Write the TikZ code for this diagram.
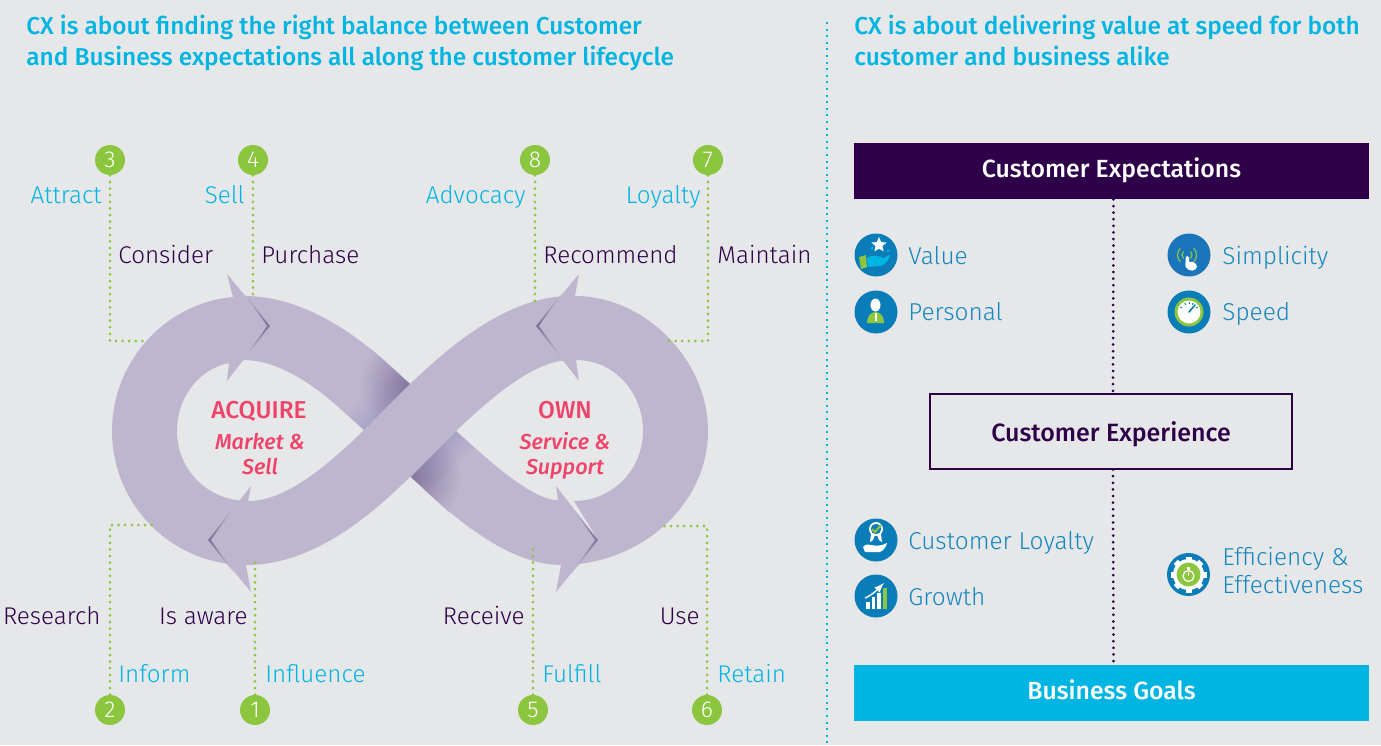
\documentclass[tikz,border=0pt]{standalone}
\usepackage{fontspec}
\setmainfont{Fira Sans Light}[BoldFont=Fira Sans Medium,ItalicFont=Fira Sans Light Italic,BoldItalicFont=Fira Sans Medium Italic]
\usepackage{tikz}
\usetikzlibrary{shapes.geometric,fadings}
\definecolor{bgc}{HTML}{E6E7E9}
\definecolor{bandc}{HTML}{BEB6CF}
\definecolor{darkc}{HTML}{7F7099}
\definecolor{crossc}{HTML}{9C97C0}
\definecolor{purplec}{HTML}{2E0049}
\definecolor{cyanc}{HTML}{00B5E2}
\definecolor{greenc}{HTML}{8CC63F}
\definecolor{pinkc}{HTML}{F0436A}
\definecolor{iconc}{HTML}{0A7DB8}
\definecolor{simplec}{HTML}{1B75BB}
\definecolor{textc}{HTML}{1487BF}
\tikzfading[name=cornerfade,inner color=transparent!15,outer color=transparent!100]
\tikzset{
  badge/.style={circle,fill=greenc,text=white,minimum size=15pt,inner sep=0pt,font=\fontsize{11.5}{12}\selectfont},
  guide/.style={greenc,line width=1.5pt,line cap=round,dash pattern=on 0pt off 3.3pt},
  middots/.style={purplec,line width=1.5pt,line cap=round,dash pattern=on 0pt off 3.3pt},
  stagelabel/.style={text=purplec,inner sep=0pt,text height=10pt,text depth=2pt,font=\fontsize{12.1}{14}\selectfont},
  touchlabel/.style={text=cyanc,inner sep=0pt,text height=10pt,text depth=2pt,font=\fontsize{12.1}{14}\selectfont},
  heading/.style={text=cyanc,inner sep=0pt,anchor=west,text height=10pt,text depth=2pt,font=\fontsize{12.2}{14}\selectfont\bfseries},
  midlabel/.style={text=pinkc,inner sep=0pt,text height=9pt,text depth=2pt,font=\fontsize{10.8}{13}\selectfont\bfseries},
  midtitle/.style={midlabel,font=\fontsize{12.2}{13}\selectfont\bfseries},
  iconlabel/.style={text=textc,inner sep=0pt,anchor=west,text height=10pt,text depth=2pt,font=\fontsize{12.2}{14}\selectfont},
  icondisc/.style={circle,fill=iconc,minimum size=21.5pt,inner sep=0pt},
  banner/.style={minimum width=257.5pt,minimum height=28pt,inner sep=0pt,text=white,text height=9pt,text depth=2.5pt,font=\fontsize{12.4}{14}\selectfont\bfseries}
}
\begin{document}
\begin{tikzpicture}[x=0.5pt,y=-0.5pt]
  \fill[bgc] (0,0) rectangle (1381,745);
  \useasboundingbox (0,0) rectangle (1381,745);

  % Headings
  \node[heading] (headleft) at (26,26) {CX is about finding the right balance between Customer};
  \node[heading] (headleftb) at (26,57) {and Business expectations all along the customer lifecycle};
  \node[heading] (headright) at (854,26) {CX is about delivering value at speed for both};
  \node[heading] (headrightb) at (854,57) {customer and business alike};

  % Divider
  \coordinate (divtop) at (827,22);
  \coordinate (divbot) at (827,745);
  \draw[cyanc,line width=1pt,dash pattern=on 1pt off 2.3pt] (divtop) -- (divbot);

  % Left loop
  \fill[bandc] (233,297) -- (227,274) -- (270,326) -- (227,381) -- (229,363)
    .. controls (199,369) and (177,397) .. (177,431)
    .. controls (177,470) and (208,501) .. (248,501) -- (208,540) -- (246,565)
    .. controls (172,565) and (112,505) .. (112,431)
    .. controls (112,362) and (165,303) .. (233,297) -- cycle;

  % Right loop
  \fill[bandc] (575,296) -- (579,274) -- (536,326) -- (579,381) -- (576,360)
    .. controls (614,360) and (643,392) .. (643,431)
    .. controls (643,470) and (612,501) .. (574,501) -- (598,540) -- (561,565)
    .. controls (640,565) and (708,505) .. (708,431)
    .. controls (708,360) and (645,296) .. (575,296) -- cycle;

  % Band that runs under
  \fill[bandc] (244,296) .. controls (308,296) and (365,340) .. (410,384) -- (456,431)
    .. controls (496,468) and (536,501) .. (558,500) -- (556,486) -- (598,540) -- (556,592) -- (561,565)
    .. controls (511,565) and (456,521) .. (411,477) -- (364,430)
    .. controls (325,393) and (285,360) .. (243,360) -- (270,326) -- cycle;

  % Shading where it passes under
  \shade[top color=bandc,bottom color=crossc,middle color=bandc,shading angle=45] (410,384) -- (364,430) -- (326,396) -- (372,350) -- cycle;
  \begin{scope}
    \clip (410,384) -- (364,430) -- (326,396) -- (372,350) -- cycle;
    \fill[darkc,path fading=cornerfade] (410,384) circle (50);
  \end{scope}
  \shade[top color=crossc,bottom color=bandc,middle color=bandc,shading angle=45] (456,431) -- (411,477) -- (449,512) -- (495,466) -- cycle;
  \begin{scope}
    \clip (456,431) -- (411,477) -- (449,512) -- (495,466) -- cycle;
    \fill[darkc,path fading=cornerfade] (411,477) circle (50);
  \end{scope}

  % Band that runs over
  \fill[bandc] (571,296) .. controls (511,296) and (456,340) .. (410,384) -- (364,430)
    .. controls (325,468) and (285,501) .. (248,501) -- (251,486) -- (208,540) -- (251,592) -- (246,565)
    .. controls (310,565) and (365,521) .. (410,477) -- (456,431)
    .. controls (496,393) and (536,360) .. (571,360) -- cycle;

  % Edges of the arrow heads
  \shade[left color=bandc,right color=darkc] (243,292) -- (270,326) -- (243,360) -- (267,326) -- cycle;
  \shade[left color=darkc,right color=bandc] (563,292) -- (536,326) -- (563,360) -- (539,326) -- cycle;
  \shade[left color=darkc,right color=bandc] (235,506) -- (208,540) -- (235,574) -- (211,540) -- cycle;
  \shade[left color=bandc,right color=darkc] (571,506) -- (598,540) -- (571,574) -- (595,540) -- cycle;

  % Numbered markers
  \node[badge] (markc) at (110,160) {3};
  \node[badge] (markd) at (253,160) {4};
  \node[badge] (markh) at (535,160) {8};
  \node[badge] (markg) at (708,160) {7};
  \node[badge] (markb) at (110,710) {2};
  \node[badge] (marka) at (255,710) {1};
  \node[badge] (marke) at (533,710) {5};
  \node[badge] (markf) at (707,710) {6};

  % Guide ends on the band
  \coordinate (endc) at (148,341);
  \coordinate (endd) at (253,298);
  \coordinate (endh) at (535,304);
  \coordinate (endg) at (668,341);
  \coordinate (endb) at (153,525);
  \coordinate (enda) at (255,562);
  \coordinate (ende) at (533,548);
  \coordinate (endf) at (663,526);

  \draw[guide] (markc) |- (endc);
  \draw[guide] (markd) -- (endd);
  \draw[guide] (markh) -- (endh);
  \draw[guide] (markg) |- (endg);
  \draw[guide] (markb) |- (endb);
  \draw[guide] (marka) -- (enda);
  \draw[guide] (marke) -- (ende);
  \draw[guide] (markf) |- (endf);

  % Upper labels
  \node[touchlabel,anchor=east] (attract) at (102,195) {Attract};
  \node[touchlabel,anchor=east] (sell) at (245,195) {Sell};
  \node[touchlabel,anchor=east] (advocacy) at (526,195) {Advocacy};
  \node[touchlabel,anchor=east] (loyalty) at (701,195) {Loyalty};
  \node[stagelabel,anchor=west] (consider) at (118,255) {Consider};
  \node[stagelabel,anchor=west] (purchase) at (261,255) {Purchase};
  \node[stagelabel,anchor=west] (recommend) at (543,255) {Recommend};
  \node[stagelabel,anchor=west] (maintain) at (717,255) {Maintain};

  % Lower labels
  \node[stagelabel,anchor=east] (research) at (101,616) {Research};
  \node[stagelabel,anchor=east] (isaware) at (248,616) {Is aware};
  \node[stagelabel,anchor=east] (receive) at (525,616) {Receive};
  \node[stagelabel,anchor=east] (use) at (700,616) {Use};
  \node[touchlabel,anchor=west] (inform) at (118,674) {Inform};
  \node[touchlabel,anchor=west] (influence) at (265,674) {Influence};
  \node[touchlabel,anchor=west] (fulfill) at (542,674) {Fulfill};
  \node[touchlabel,anchor=west] (retain) at (717,674) {Retain};

  % Inside the loops
  \node[midtitle] (acquire) at (259,411) {ACQUIRE};
  \node[midlabel] (market) at (260,442) {\itshape Market \&};
  \node[midlabel] (marketb) at (260,467) {\itshape Sell};
  \node[midtitle] (own) at (565,411) {OWN};
  \node[midlabel] (service) at (565,442) {\itshape Service \&};
  \node[midlabel] (serviceb) at (565,467) {\itshape Support};

  % Right column
  \node[banner,fill=purplec] (expect) at (1111.5,171) {Customer Expectations};
  \node[draw=purplec,line width=0.6pt,minimum width=181pt,minimum height=37.5pt,inner sep=0pt,text=purplec,text height=11pt,text depth=1.5pt,font=\fontsize{12.5}{14}\selectfont\bfseries] (experience) at (1111,431.5) {Customer Experience};
  \node[banner,fill=cyanc] (goals) at (1111.5,693) {Business Goals};
  \draw[middots] ([xshift=1pt]expect.south) -- ([xshift=1pt]experience.north);
  \draw[middots] ([xshift=1pt]experience.south) -- ([xshift=1pt]goals.north);

  % Value
  \node[icondisc] (value) at (876,255) {};
  \node[star,star points=5,star point ratio=2.2,fill=white,minimum size=8pt,inner sep=0pt] (valuestar) at (879,245) {};
  \fill[cyanc] (888,251) circle (1.5);
  \fill[cyanc] (872,248) circle (1.5);
  \fill[cyanc] (867,258) .. controls (873,254) and (878,256) .. (884,258) .. controls (886,257) and (888,255) .. (890,255) .. controls (889,260) and (885,265) .. (880,266) -- (868,267) -- cycle;
  \fill[greenc] (859,257) -- (866,255) -- (867,267) -- (861,269) -- cycle;
  \node[iconlabel] (valuetext) at (908,256) {Value};

  % Personal
  \node[icondisc] (personal) at (876,312) {};
  \fill[white] (875.5,305) ellipse (5 and 6.5);
  \fill[greenc] (867,323) .. controls (867,316) and (871,312) .. (875.5,312) .. controls (880,312) and (884,316) .. (884,323) -- cycle;
  \fill[white] (874.5,313) rectangle (876.5,321);
  \node[iconlabel] (personaltext) at (908,312) {Personal};

  % Simplicity
  \node[icondisc,fill=simplec] (simple) at (1189,255) {};
  \foreach \r in {5,9.5} {
    \draw[greenc,line width=0.6pt] (1187,255) ++(135:\r) arc (135:225:\r);
    \draw[greenc,line width=0.6pt] (1187,255) ++(-45:\r) arc (-45:45:\r);
  }
  \fill[white,rounded corners=0.8pt] (1185.5,256) rectangle (1189,268);
  \fill[white,rounded corners=2pt] (1184,263) -- (1189,261) -- (1197,263) -- (1197,270) -- (1188,271) -- cycle;
  \node[iconlabel] (simpletext) at (1222,256) {Simplicity};

  % Speed
  \node[icondisc] (speed) at (1189,312) {};
  \fill[greenc] (1189,312) circle (14.5);
  \fill[white] (1189,312) circle (11.5);
  \draw[iconc,line width=0.8pt,line cap=round] (1189,312) -- (1195,305);
  \foreach \a in {150,115,90,65,30}
    \draw[iconc,line width=0.5pt] (1189,312) ++(-\a:8) -- ++(-\a:2);
  \node[iconlabel] (speedtext) at (1222,312) {Speed};

  % Customer Loyalty
  \node[icondisc] (custloyal) at (876,540) {};
  \fill[white] (871,534) -- (870,542) -- (873,540) -- (875,535) -- cycle;
  \fill[white] (881,534) -- (882,542) -- (879,540) -- (877,535) -- cycle;
  \fill[white] (876,529) circle (7);
  \fill[iconc] (876,529) circle (5.2);
  \draw[greenc,line width=1pt] (872,529) -- (875,532) -- (881,525);
  \fill[white] (863,547) .. controls (866,544) and (868,544) .. (871,545) .. controls (876,546) and (882,546) .. (887,543) .. controls (886,547) and (884,550) .. (880,552) -- (865,552) -- cycle;
  \node[iconlabel] (custloyaltext) at (908,541) {Customer Loyalty};

  % Growth
  \node[icondisc] (growth) at (876,596) {};
  \fill[white] (866,602) rectangle (870,609);
  \fill[white] (872,597) rectangle (875,609);
  \fill[white] (877,593) rectangle (881,609);
  \fill[greenc] (883,588) rectangle (887,609);
  \draw[white,line width=0.7pt,-latex] (865,598) .. controls (872,595) and (877,590) .. (884,583);
  \node[iconlabel] (growthtext) at (908,597) {Growth};

  % Efficiency
  \node[icondisc] (effic) at (1188.5,574.5) {};
  \fill[white] (1188.5,574.5) circle (15.5);
  \foreach \a in {0,45,...,315}
    \fill[white,rotate around={\a:(1188.5,574.5)}] (1185.5,556.5) rectangle (1191.5,562);
  \fill[greenc] (1188.5,574.5) circle (12);
  \draw[white,line width=0.6pt] (1188.5,576) circle (5.5);
  \fill[white] (1187,567) rectangle (1190,569.5);
  \draw[white,line width=0.5pt] (1188.5,576) -- (1188.5,572);
  \node[iconlabel] (effictext) at (1222,557) {Efficiency \&};
  \node[iconlabel] (effictextb) at (1222,585) {Effectiveness};
\end{tikzpicture}
\end{document}
